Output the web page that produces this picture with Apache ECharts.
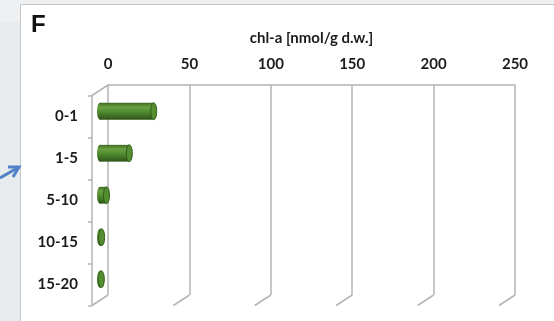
<!DOCTYPE html>
<html>
<head>
<meta charset="utf-8">
<script src="https://cdn.jsdelivr.net/npm/echarts@6/dist/echarts.min.js"></script>
<style>
  html, body { margin: 0; padding: 0; }
  body { width: 554px; height: 321px; background: #e8ebed; position: relative; overflow: hidden; }
  #strip { position: absolute; left: 0; top: 0; width: 554px; height: 22px; background: #eef0f2; }
  #panel { position: absolute; left: 20px; top: 4px; width: 560px; height: 330px; background: #fff; border: 1px solid #c4c7ca; }
  #main { position: absolute; left: 0; top: 0; width: 554px; height: 321px; }
</style>
</head>
<body>
<div id="strip"></div>
<div id="panel"></div>
<div id="main"></div>
<script>
// depth classes (cm) and chl-a values
var depths = ['0-1', '1-5', '5-10', '10-15', '15-20'];
var chlA = [33, 18, 4, 1, 0.8];
var xTicks = [0, 50, 100, 150, 200, 250];

// back wall of the fake 3D box, and the depth shift to the front wall
var back = { left: 108, top: 85, width: 407, height: 210 };
var DX = -16, DY = 10.5;

var gridCol = '#b4b4b4';
var txtCol = '#1c1c1c';
var font = 'Lato';

var myChart = echarts.init(document.getElementById('main'));

// cylinder bars
function renderBar(params, api) {
    var val = api.value(0);
    var cat = api.value(1);
    var s = api.coord([0, cat]);
    var e = api.coord([val, cat]);
    var h = api.size([0, 1])[1] * 0.4;
    var rx = 3;
    var y0 = s[1] - h / 2;
    var body = new echarts.graphic.LinearGradient(0, 0, 0, 1, [
        { offset: 0, color: '#3e6b22' },
        { offset: 0.25, color: '#67a141' },
        { offset: 0.55, color: '#4f8a2e' },
        { offset: 1, color: '#2e5418' }
    ]);
    return {
        type: 'group',
        children: [
            { type: 'ellipse', shape: { cx: s[0], cy: s[1], rx: rx, ry: h / 2 }, style: { fill: body } },
            { type: 'rect', shape: { x: s[0], y: y0, width: Math.max(e[0] - s[0], 0), height: h }, style: { fill: body } },
            { type: 'ellipse', shape: { cx: e[0], cy: e[1], rx: rx, ry: h / 2 },
              style: { fill: '#558d31', stroke: '#2f5a19', lineWidth: 1 } }
        ]
    };
}

// floor / wall edges leaving each gridline towards the front
function renderEdge(params, api) {
    var cs = params.coordSys;
    var x = api.coord([api.value(0), 0])[0];
    var bottom = cs.y + cs.height;
    var kids = [
        { type: 'line', shape: { x1: x, y1: bottom, x2: x + DX, y2: bottom + DY },
          style: { stroke: gridCol, lineWidth: 1.5 } }
    ];
    if (params.dataIndex === 0) {
        kids.push({ type: 'line', shape: { x1: x, y1: cs.y, x2: x + DX, y2: cs.y + DY },
                    style: { stroke: gridCol, lineWidth: 1.5 } });
    }
    return { type: 'group', children: kids };
}

var front = { left: back.left + DX, top: back.top + DY, width: back.width, height: back.height };
var mid = { left: back.left + DX / 2, top: back.top + DY / 2, width: back.width, height: back.height };

myChart.setOption({
    animation: false,
    textStyle: { fontFamily: font },
    graphic: [
        { type: 'text', left: 31, top: 13, style: { text: 'F', font: 'bold 24px "Liberation Sans"', fill: '#111' } },
        { type: 'polyline', shape: { points: [[0, 178], [19, 167]] }, style: { stroke: '#4f81c6', lineWidth: 3 } },
        { type: 'polyline', shape: { points: [[8, 167], [19, 167], [13, 177]] }, style: { stroke: '#4f81c6', lineWidth: 3, fill: null } }
    ],
    grid: [
        { left: back.left, top: back.top, width: back.width, height: back.height },
        { left: front.left, top: front.top, width: front.width, height: front.height },
        { left: mid.left, top: mid.top, width: mid.width, height: mid.height }
    ],
    xAxis: [{
        gridIndex: 0,
        type: 'value',
        position: 'top',
        min: 0,
        max: 250,
        interval: 50,
        name: 'chl-a [nmol/g d.w.]',
        nameLocation: 'middle',
        nameGap: 39,
        nameTextStyle: { fontSize: 15, fontWeight: 'bold', color: txtCol, fontFamily: font },
        axisLine: { show: true, lineStyle: { color: gridCol, width: 1.5 } },
        axisTick: { show: false },
        axisLabel: { margin: 13, fontSize: 15, fontWeight: 'bold', color: txtCol, fontFamily: font },
        splitLine: { show: true, lineStyle: { color: gridCol, width: 1.5 } }
    }, {
        gridIndex: 1, type: 'value', min: 0, max: 250, show: false
    }, {
        gridIndex: 2, type: 'value', min: 0, max: 250, show: false
    }],
    yAxis: [{
        gridIndex: 0, type: 'category', data: depths, inverse: true, show: false
    }, {
        gridIndex: 1,
        type: 'category',
        data: depths,
        inverse: true,
        axisLine: { show: true, lineStyle: { color: gridCol, width: 1.5 } },
        axisTick: { show: true, length: 4, lineStyle: { color: gridCol, width: 1.5 } },
        axisLabel: { margin: 14, fontSize: 15, fontWeight: 'bold', color: txtCol, fontFamily: font },
        splitLine: { show: false }
    }, {
        gridIndex: 2, type: 'category', data: depths, inverse: true, show: false
    }],
    series: [{
        type: 'custom',
        name: 'edges',
        xAxisIndex: 0,
        yAxisIndex: 0,
        renderItem: renderEdge,
        encode: { x: 0, y: 1 },
        data: xTicks.map(function (t) { return [t, 0]; }),
        silent: true,
        clip: false
    }, {
        type: 'custom',
        name: 'chl-a',
        xAxisIndex: 2,
        yAxisIndex: 2,
        renderItem: renderBar,
        encode: { x: 0, y: 1 },
        data: chlA.map(function (v, i) { return [v, i]; })
    }]
});
</script>
</body>
</html>
